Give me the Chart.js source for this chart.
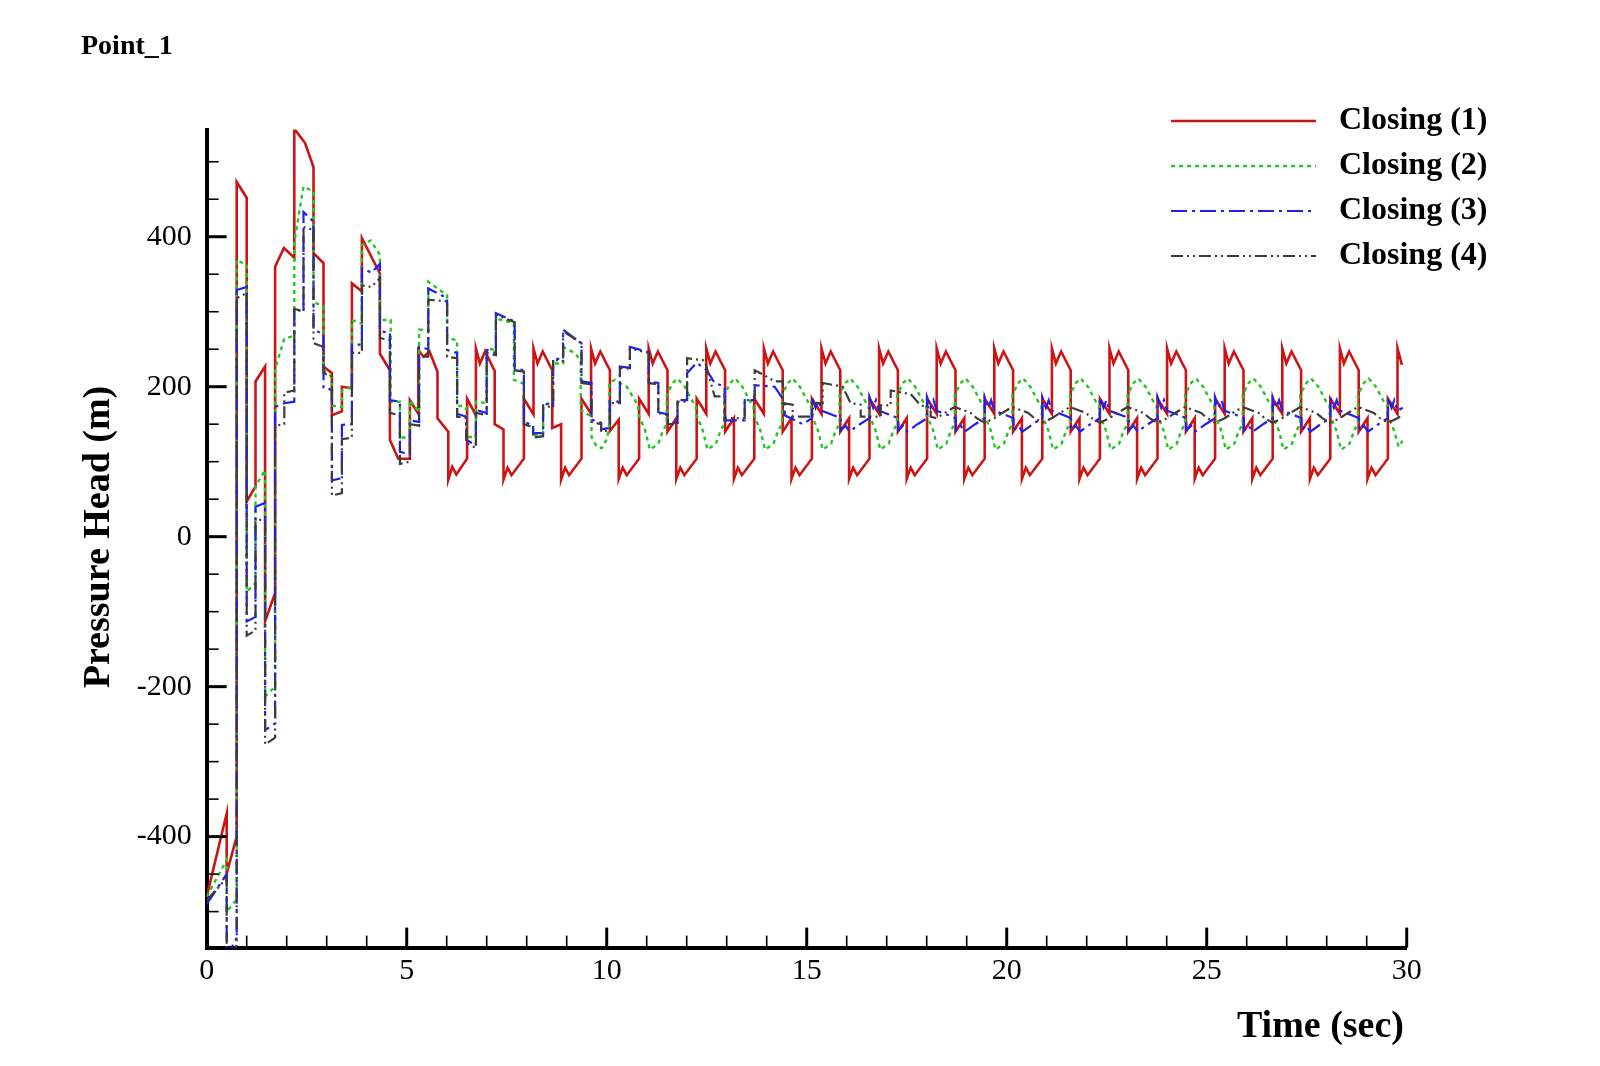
<!DOCTYPE html>
<html>
<head>
<meta charset="utf-8">
<script src="https://cdn.jsdelivr.net/npm/chart.js@4.4.1/dist/chart.umd.min.js"></script>
<style>
html,body{margin:0;padding:0;background:#fff;}
#wrap{position:relative;width:1600px;height:1066px;}
</style>
</head>
<body>
<div id="wrap"><canvas id="c" width="1600" height="1066"></canvas></div>
<script>
// ---------- data (time in s, pressure head in m) ----------
const chartTitle = 'Point_1';
const xAxisTitle = 'Time (sec)';
const yAxisTitle = 'Pressure Head (m)';
const seriesNames = ['Closing (1)', 'Closing (2)', 'Closing (3)', 'Closing (4)'];
const xTickLabels = [0, 5, 10, 15, 20, 25, 30];
const yTickLabels = [-400, -200, 0, 200, 400];

const closing1 = [
[0,-480],[0.5,-369],[0.5,-449],[0.75,-400],[0.75,473],[1.0,452],[1.0,47],[1.22,67],[1.22,207],[1.46,227],[1.46,-113],[1.71,-75],[1.71,360],[1.93,385],[2.19,372],[2.19,544],[2.46,525],[2.67,493],[2.67,378],[2.92,365],[2.92,227],[3.13,218],[3.13,162],[3.38,167],[3.38,200],[3.63,198],[3.63,338],[3.88,327],[3.88,398],[4.33,351],[4.33,244],[4.58,222],[4.58,129],[4.79,104],[5.08,104],[5.08,182],
[5.29,164],[5.29,249],[5.42,240],[5.57,247],[5.77,220],[5.77,158],[6.04,140],[6.04,76],[6.14,93],[6.24,83],[6.51,104],[6.51,184],
[6.73,162],[6.73,251],[6.83,231],[6.96,247],[7.2,221],[7.2,150],[7.42,143],[7.42,76],[7.52,92],[7.62,82],[7.93,104],[7.93,184],
[8.17,163],[8.17,251],[8.27,231],[8.4,247],[8.64,222],[8.64,145],[8.86,150],[8.86,76],[8.96,92],[9.06,82],[9.37,104],[9.37,184],
[9.61,164],[9.61,251],[9.71,231],[9.84,247],[10.08,222],[10.08,141],[10.3,156],[10.3,77],[10.4,92],[10.5,82],[10.81,104],[10.81,184],
[11.05,164],[11.05,251],[11.15,231],[11.28,247],[11.52,222],[11.52,140],[11.74,158],[11.74,77],[11.84,92],[11.94,82],[12.25,104],[12.25,184],
[12.49,164],[12.49,251],[12.59,231],[12.72,247],[12.96,222],[12.96,140],[13.18,158],[13.18,77],[13.28,92],[13.38,82],[13.69,104],[13.69,184],
[13.93,164],[13.93,251],[14.03,231],[14.16,247],[14.4,222],[14.4,140],[14.62,158],[14.62,77],[14.72,92],[14.82,82],[15.13,104],[15.13,184],
[15.37,164],[15.37,251],[15.47,231],[15.6,247],[15.84,222],[15.84,140],[16.06,158],[16.06,77],[16.16,92],[16.26,82],[16.57,104],[16.57,184],
[16.81,164],[16.81,251],[16.91,231],[17.04,247],[17.28,222],[17.28,140],[17.5,158],[17.5,77],[17.6,92],[17.7,82],[18.01,104],[18.01,184],
[18.25,164],[18.25,251],[18.35,231],[18.48,247],[18.72,222],[18.72,140],[18.94,158],[18.94,77],[19.04,92],[19.14,82],[19.45,104],[19.45,184],
[19.69,164],[19.69,251],[19.79,231],[19.92,247],[20.16,222],[20.16,140],[20.38,158],[20.38,77],[20.48,92],[20.58,82],[20.89,104],[20.89,184],
[21.13,164],[21.13,251],[21.23,231],[21.36,247],[21.6,222],[21.6,140],[21.82,158],[21.82,77],[21.92,92],[22.02,82],[22.33,104],[22.33,184],
[22.57,164],[22.57,251],[22.67,231],[22.8,247],[23.04,222],[23.04,140],[23.26,158],[23.26,77],[23.36,92],[23.46,82],[23.77,104],[23.77,184],
[24.01,164],[24.01,251],[24.11,231],[24.24,247],[24.48,222],[24.48,140],[24.7,158],[24.7,77],[24.8,92],[24.9,82],[25.21,104],[25.21,184],
[25.45,164],[25.45,251],[25.55,231],[25.68,247],[25.92,222],[25.92,140],[26.14,158],[26.14,77],[26.24,92],[26.34,82],[26.65,104],[26.65,184],
[26.89,164],[26.89,251],[26.99,231],[27.12,247],[27.36,222],[27.36,140],[27.58,158],[27.58,77],[27.68,92],[27.78,82],[28.09,104],[28.09,184],
[28.33,164],[28.33,251],[28.43,231],[28.56,247],[28.8,222],[28.8,140],[29.02,158],[29.02,77],[29.12,92],[29.22,82],[29.53,104],[29.53,184],
[29.77,164],[29.77,251],[29.88,229]
];

const closing2 = [
[0,-480],[0.5,-431],[0.5,-500],[0.75,-484],[0.75,369],[1.0,362],[1.0,-73],[1.22,-62],[1.22,67],[1.46,89],[1.46,-213],[1.71,-200],[1.71,224],[1.94,264],[2.19,268],[2.19,393],[2.42,467],[2.67,460],[2.67,313],[2.92,307],[2.92,222],[3.13,213],[3.13,175],[3.38,173],[3.38,195],[3.63,200],[3.63,289],[3.88,284],[3.88,389],[4.1,395],[4.33,376],[4.33,289],[4.6,289],[4.6,180],[4.83,180],[4.83,133],[5.08,131],[5.08,182],[5.31,166],[5.31,276],[5.54,276],[5.54,340],[5.95,324],[6.01,322],[6.01,265],[6.26,262],[6.26,175],[6.49,173],[6.49,133],[6.73,133],[6.73,180],[7.0,178],[7.0,251],[7.23,249],[7.23,291],[7.68,285],[7.68,209],[7.93,204],[7.93,149],[8.16,147],[8.16,135],[8.41,138],[8.41,175],[8.66,180],[8.66,231],[8.91,231],[8.91,253],[9.2,245],[9.35,235],[9.35,169],[9.62,160],[9.62,133],
[9.75,120],[9.88,118],[10.0,130],[10.06,145],[10.06,205],[10.2,209],[10.33,205],[10.5,200],[10.75,178],[10.79,176],[10.79,164],
[10.96,142],[11.08,116],[11.29,124],[11.41,142],[11.5,150],[11.5,189],[11.65,205],[11.77,211],[11.95,200],[12.15,180],[12.23,176],[12.23,164],
[12.4,142],[12.52,116],[12.73,124],[12.85,142],[12.94,150],[12.94,189],[13.09,205],[13.21,211],[13.39,200],[13.59,180],[13.67,176],[13.67,164],
[13.84,142],[13.96,116],[14.17,124],[14.29,142],[14.38,150],[14.38,189],[14.53,205],[14.65,211],[14.83,200],[15.03,180],[15.11,176],[15.11,164],
[15.28,142],[15.4,116],[15.61,124],[15.73,142],[15.82,150],[15.82,189],[15.97,205],[16.09,211],[16.27,200],[16.47,180],[16.55,176],[16.55,164],
[16.72,142],[16.84,116],[17.05,124],[17.17,142],[17.26,150],[17.26,189],[17.41,205],[17.53,211],[17.71,200],[17.91,180],[17.99,176],[17.99,164],
[18.16,142],[18.28,116],[18.49,124],[18.61,142],[18.7,150],[18.7,189],[18.85,205],[18.97,211],[19.15,200],[19.35,180],[19.43,176],[19.43,164],
[19.6,142],[19.72,116],[19.93,124],[20.05,142],[20.14,150],[20.14,189],[20.29,205],[20.41,211],[20.59,200],[20.79,180],[20.87,176],[20.87,164],
[21.04,142],[21.16,116],[21.37,124],[21.49,142],[21.58,150],[21.58,189],[21.73,205],[21.85,211],[22.03,200],[22.23,180],[22.31,176],[22.31,164],
[22.48,142],[22.6,116],[22.81,124],[22.93,142],[23.02,150],[23.02,189],[23.17,205],[23.29,211],[23.47,200],[23.67,180],[23.75,176],[23.75,164],
[23.92,142],[24.04,116],[24.25,124],[24.37,142],[24.46,150],[24.46,189],[24.61,205],[24.73,211],[24.91,200],[25.11,180],[25.19,176],[25.19,164],
[25.36,142],[25.48,116],[25.69,124],[25.81,142],[25.9,150],[25.9,189],[26.05,205],[26.17,211],[26.35,200],[26.55,180],[26.63,176],[26.63,164],
[26.8,142],[26.92,116],[27.13,124],[27.25,142],[27.34,150],[27.34,189],[27.49,205],[27.61,211],[27.79,200],[27.99,180],[28.07,176],[28.07,164],
[28.24,142],[28.36,116],[28.57,124],[28.69,142],[28.78,150],[28.78,189],[28.93,205],[29.05,211],[29.23,200],[29.43,180],[29.51,176],[29.51,164],
[29.68,142],[29.8,120],[29.9,128]
];

const closing3 = [
[0,-490],[0.5,-450],[0.5,-560],[0.75,-535],[0.75,329],[1.0,333],[1.0,-113],[1.22,-107],[1.22,40],[1.46,45],[1.46,-258],[1.71,-249],[1.71,173],[1.94,178],[2.19,180],[2.19,304],[2.42,300],[2.42,433],[2.67,420],[2.67,276],[2.92,270],[2.92,198],[3.13,196],[3.13,75],[3.38,78],[3.38,149],[3.63,150],[3.63,256],[3.88,256],[3.88,358],[4.12,352],[4.33,364],[4.33,274],[4.58,272],[4.58,182],[4.83,180],[4.83,113],[5.08,110],[5.08,155],[5.31,153],[5.31,253],[5.54,250],[5.54,331],[6.01,318],[6.01,249],[6.26,245],[6.26,164],[6.49,160],[6.49,129],[6.73,122],[6.73,169],[7.0,165],[7.0,249],[7.23,245],[7.23,298],[7.7,287],[7.7,224],[7.93,222],[7.93,153],[8.16,149],[8.16,138],[8.41,138],[8.41,178],[8.66,175],[8.66,238],[8.91,236],[8.91,276],[9.37,258],[9.37,207],[9.62,205],[9.62,156],[9.86,152],[9.86,143],[10.08,145],[10.08,180],[10.33,180],[10.33,227],[10.58,225],[10.58,253],[11.05,246],[11.05,207],[11.29,205],[11.29,166],[11.53,163],[11.53,152],[11.77,152],[11.77,182],[12.01,182],[12.01,218],[12.25,232],[12.5,222],[12.7,205],[12.95,200],[12.95,155],[13.45,155],[13.45,182],[13.7,182],[13.7,202],[14.2,200],[14.45,180],[14.45,162],[14.9,150],[15.13,158],
[15.13,186],[15.22,172],[15.29,182],[15.37,168],[15.67,162],[15.85,158],[15.85,142],[15.97,148],[16.07,140],[16.33,150],
[16.57,158],[16.57,186],[16.66,172],[16.73,182],[16.81,168],[17.11,162],[17.29,158],[17.29,142],[17.41,148],[17.51,140],[17.77,150],
[18.01,158],[18.01,186],[18.1,172],[18.17,182],[18.25,168],[18.55,162],[18.73,158],[18.73,142],[18.85,148],[18.95,140],[19.21,150],
[19.45,158],[19.45,186],[19.54,172],[19.61,182],[19.69,168],[19.99,162],[20.17,158],[20.17,142],[20.29,148],[20.39,140],[20.65,150],
[20.89,158],[20.89,186],[20.98,172],[21.05,182],[21.13,168],[21.43,162],[21.61,158],[21.61,142],[21.73,148],[21.83,140],[22.09,150],
[22.33,158],[22.33,186],[22.42,172],[22.49,182],[22.57,168],[22.87,162],[23.05,158],[23.05,142],[23.17,148],[23.27,140],[23.53,150],
[23.77,158],[23.77,186],[23.86,172],[23.93,182],[24.01,168],[24.31,162],[24.49,158],[24.49,142],[24.61,148],[24.71,140],[24.97,150],
[25.21,158],[25.21,186],[25.3,172],[25.37,182],[25.45,168],[25.75,162],[25.93,158],[25.93,142],[26.05,148],[26.15,140],[26.41,150],
[26.65,158],[26.65,186],[26.74,172],[26.81,182],[26.89,168],[27.19,162],[27.37,158],[27.37,142],[27.49,148],[27.59,140],[27.85,150],
[28.09,158],[28.09,186],[28.18,172],[28.25,182],[28.33,168],[28.63,162],[28.81,158],[28.81,142],[28.93,148],[29.03,140],[29.29,150],
[29.53,158],[29.53,186],[29.62,172],[29.69,182],[29.77,168],[29.9,172]
];

const closing4 = [
[0,-485],[0.5,-455],[0.5,-560],[0.75,-545],[0.75,318],[1.0,325],[1.0,-132],[1.22,-125],[1.22,20],[1.46,25],[1.46,-277],[1.71,-268],[1.71,148],[1.94,150],[1.94,192],[2.19,195],[2.19,304],[2.42,300],[2.42,413],[2.67,409],[2.67,258],[2.92,253],[2.92,218],[3.13,214],[3.13,55],[3.38,58],[3.38,130],[3.63,132],[3.63,245],[3.88,245],[3.88,335],[4.12,333],[4.33,345],[4.33,265],[4.58,262],[4.58,165],[4.83,162],[4.83,97],[5.08,100],[5.08,150],[5.31,148],[5.31,240],[5.54,240],[5.54,316],[6.01,314],[6.01,240],[6.26,238],[6.26,160],[6.49,158],[6.49,125],[6.73,118],[6.73,165],[7.0,162],[7.0,245],[7.23,242],[7.23,296],[7.7,286],[7.7,222],[7.93,220],[7.93,150],[8.16,146],[8.16,132],[8.41,134],[8.41,175],[8.66,172],[8.66,236],[8.91,234],[8.91,274],[9.37,258],[9.37,205],[9.62,203],[9.62,153],[9.86,150],[9.86,140],[10.08,142],[10.08,178],[10.33,178],[10.33,225],[10.58,224],[10.58,251],[11.05,245],[11.05,205],[11.29,203],[11.29,165],[11.53,162],[11.53,150],[11.77,150],[11.77,180],[12.01,180],[12.01,238],[12.45,235],[12.7,187],[12.95,187],[12.95,158],[13.45,158],[13.45,182],[13.7,182],[13.7,222],[13.95,215],[14.2,207],[14.4,207],[14.4,178],[14.65,176],[14.65,160],[15.15,160],[15.15,178],[15.4,178],[15.4,205],[15.9,200],[16.1,178],[16.35,176],[16.35,160],[16.85,160],[16.85,175],[17.1,175],[17.1,195],[17.6,190],[17.85,175],[18.1,172],[18.1,160],
[18.25,158],[18.45,165],[18.7,173],[19.1,165],[19.25,158],[19.45,152],
[19.69,158],[19.89,165],[20.14,173],[20.54,165],[20.69,158],[20.89,152],
[21.13,158],[21.33,165],[21.58,173],[21.98,165],[22.13,158],[22.33,152],
[22.57,158],[22.77,165],[23.02,173],[23.42,165],[23.57,158],[23.77,152],
[24.01,158],[24.21,165],[24.46,173],[24.86,165],[25.01,158],[25.21,152],
[25.45,158],[25.65,165],[25.9,173],[26.3,165],[26.45,158],[26.65,152],
[26.89,158],[27.09,165],[27.34,173],[27.74,165],[27.89,158],[28.09,152],
[28.33,158],[28.53,165],[28.78,173],[29.18,165],[29.33,158],[29.53,152],
[29.77,158],[29.9,162]
];

const seriesColors = ['#cc1414', '#22c822', '#2020ee', '#3c3c3c'];
const seriesDash = [[], [4, 4], [16, 5, 3, 5], [12, 4, 2, 4, 2, 4]];
const seriesWidth = [2.6, 2.4, 2.2, 2.2];
const seriesPoints = [closing1, closing2, closing3, closing4];

// ---------- chart ----------
const FONT = '"Liberation Serif", "Times New Roman", serif';
const toXY = arr => arr.map(([x, y]) => ({x, y}));

const decor = {
  id: 'decor',
  afterDraw(chart) {
    const {ctx, chartArea: a, scales: {x, y}} = chart;
    ctx.save();
    ctx.strokeStyle = '#000';
    ctx.lineCap = 'butt';
    // x ticks (inward)
    for (let v = 0; v <= 30; v += 1) {
      const major = xTickLabels.includes(v);
      const px = x.getPixelForValue(v);
      ctx.lineWidth = major ? 3 : 1.6;
      ctx.beginPath();
      ctx.moveTo(px, a.bottom);
      ctx.lineTo(px, a.bottom - (major ? 20 : 12));
      ctx.stroke();
    }
    // y ticks (inward)
    for (let v = -500; v <= 500; v += 50) {
      const major = yTickLabels.includes(v);
      const py = y.getPixelForValue(v);
      ctx.lineWidth = major ? 3 : 1.6;
      ctx.beginPath();
      ctx.moveTo(a.left, py);
      ctx.lineTo(a.left + (major ? 20 : 12), py);
      ctx.stroke();
    }
    ctx.fillStyle = '#000';
    // chart title
    ctx.font = 'bold 28px ' + FONT;
    ctx.textAlign = 'left';
    ctx.textBaseline = 'alphabetic';
    ctx.fillText(chartTitle, 81, 54);
    // axis titles
    ctx.font = 'bold 38px ' + FONT;
    ctx.textAlign = 'right';
    ctx.fillText(xAxisTitle, 1404, 1037);
    ctx.save();
    ctx.translate(99, 537);
    ctx.rotate(-Math.PI / 2);
    ctx.textAlign = 'center';
    ctx.textBaseline = 'middle';
    ctx.fillText(yAxisTitle, 0, 0);
    ctx.restore();
    // legend
    const rows = [121, 166, 211, 256];
    chart.data.datasets.forEach((ds, i) => {
      const yy = rows[i];
      ctx.save();
      ctx.strokeStyle = ds.borderColor;
      ctx.lineWidth = ds.borderWidth;
      ctx.setLineDash(ds.borderDash || []);
      ctx.beginPath();
      ctx.moveTo(1171, yy);
      ctx.lineTo(1316, yy);
      ctx.stroke();
      ctx.restore();
      ctx.font = 'bold 32px ' + FONT;
      ctx.textAlign = 'left';
      ctx.textBaseline = 'middle';
      ctx.fillText(ds.label, 1339, yy);
    });
    ctx.restore();
  }
};

new Chart(document.getElementById('c'), {
  type: 'line',
  data: {
    datasets: seriesNames.map((name, i) => ({
      label: name,
      data: toXY(seriesPoints[i]),
      borderColor: seriesColors[i],
      borderWidth: seriesWidth[i],
      borderDash: seriesDash[i],
      pointRadius: 0,
      tension: 0,
      fill: false,
      order: 4 - i
    }))
  },
  options: {
    responsive: false,
    animation: false,
    devicePixelRatio: 1,
    parsing: false,
    layout: {padding: {top: 129.5, right: 193.3, left: 0, bottom: 0}},
    plugins: {legend: {display: false}, tooltip: {enabled: false}, title: {display: false}},
    scales: {
      x: {
        type: 'linear', min: 0, max: 30,
        afterBuildTicks: s => { s.ticks = xTickLabels.map(v => ({value: v})); },
        afterFit: s => { s.height = 118.4; },
        ticks: {font: {family: FONT, size: 30}, color: '#000', padding: 6, maxRotation: 0, autoSkip: false},
        grid: {display: false, drawTicks: false},
        border: {display: true, color: '#000', width: 4}
      },
      y: {
        type: 'linear', min: -548, max: 543,
        afterBuildTicks: s => { s.ticks = yTickLabels.map(v => ({value: v})); },
        afterFit: s => { s.width = 206.7; },
        ticks: {font: {family: FONT, size: 30}, color: '#000', padding: 15, autoSkip: false},
        grid: {display: false, drawTicks: false},
        border: {display: true, color: '#000', width: 4}
      }
    }
  },
  plugins: [decor]
});
</script>
</body>
</html>
